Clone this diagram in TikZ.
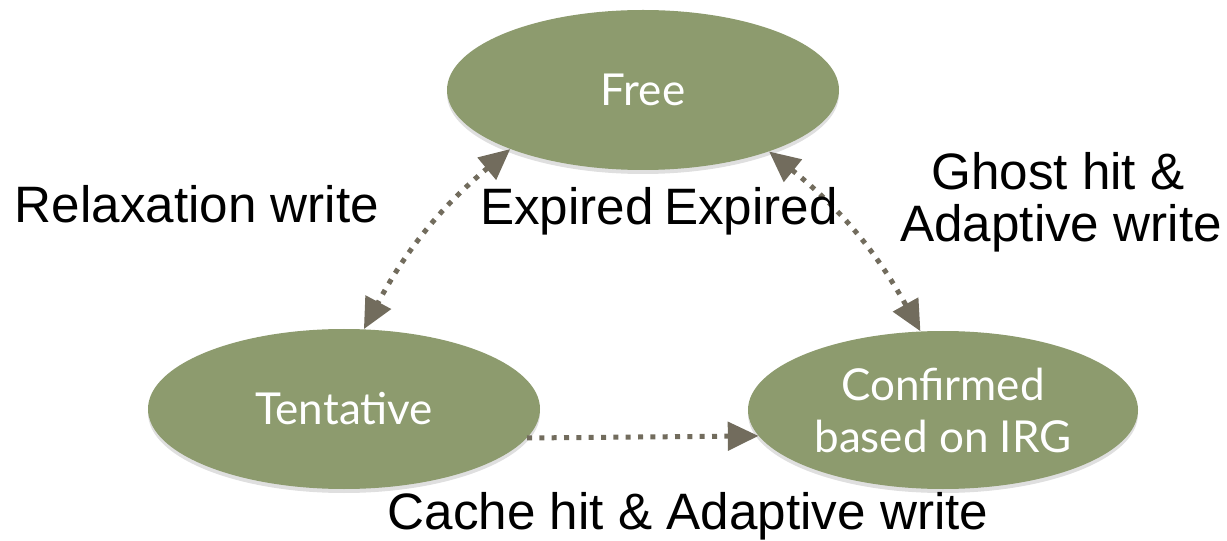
\documentclass[tikz,border=0pt]{standalone}
\usepackage{fontspec}
\setmainfont{Liberation Sans}
\newfontfamily\nodefont{Lato}
\usetikzlibrary{shapes.geometric,arrows.meta,shadows}
\definecolor{olive}{RGB}{141,155,110}
\definecolor{arrowc}{RGB}{114,108,93}
\newlength{\px}
\setlength{\px}{0.75pt}
\tikzset{
  state/.style={ellipse, fill=olive, minimum width=392\px, minimum height=160\px, inner sep=0pt,
    text=white, font=\nodefont\fontsize{33}{39}\selectfont, align=center,
    drop shadow={opacity=0.25, shadow xshift=0pt, shadow yshift=-3pt}},
  lbl/.style={font=\fontsize{38.4}{39}\selectfont, text=black, inner sep=0pt, anchor=base, align=center},
  tip/.style={Triangle[length=23pt,width=21pt]},
  conn/.style={draw=arrowc, line width=3.75pt, dash pattern=on 3.75pt off 5.5pt,
    -{Triangle[length=23pt,width=21pt]}},
  bconn/.style={conn, {Triangle[length=23pt,width=21pt]}-{Triangle[length=23pt,width=21pt]}}
}
\begin{document}
\begin{tikzpicture}[x=0.75pt, y=-0.75pt]
\useasboundingbox (0,0) rectangle (1227,541);
\node[state] (free) at (643,90) {Free};
\node[state] (tent) at (344,409) {Tentative};
\node[state, minimum width=390\px, minimum height=158\px] (conf) at (943,410) {Confirmed\\based on IRG};
\draw[bconn] (free.204) to[bend right=11] (tent.76);
\draw[bconn] (free.334) to[bend left=11] (conf.106);
\draw[conn] (tent.-9) -- (conf.188.7);
\node[lbl] (l1) at (197,223) {Relaxation write};
\node[lbl] (l2) at (567,225) {Expired};
\node[lbl] (l3) at (751,225) {Expired};
\node[lbl] (l4) at (1058,190) {Ghost hit \&};
\node[lbl] (l5) at (1061,242) {Adaptive write};
\node[lbl] (l6) at (688,529) {Cache hit \& Adaptive write};
\end{tikzpicture}
\end{document}
